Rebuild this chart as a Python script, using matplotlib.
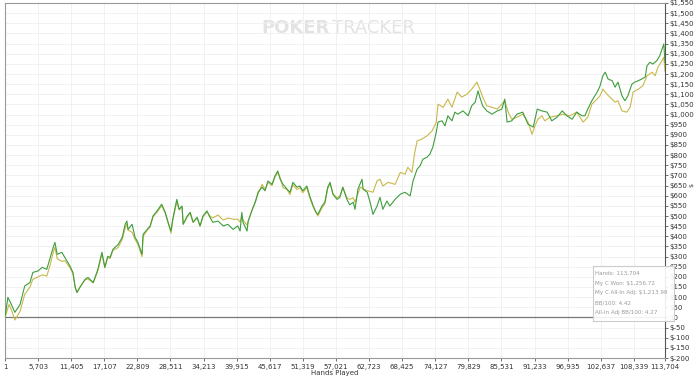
import matplotlib
matplotlib.use("Agg")
import matplotlib.pyplot as plt
import numpy as np

# hands played (thousands) and cumulative winnings
won_hands_k = [0.0, 0.5, 1.0, 1.7, 2.6, 3.4, 4.3, 4.8, 5.7, 6.4, 7.2, 7.8, 8.3, 8.6, 9.0, 9.8,
               10.3, 11.2, 11.7, 12.1, 12.4, 12.9, 13.8, 14.3, 15.2, 16.0, 16.7, 17.2, 17.7, 18.1,
               18.6, 19.5, 20.2, 20.7, 21.0, 21.2, 21.9, 22.4, 22.9, 23.6, 23.8, 24.5, 25.0, 25.5,
               26.2, 27.0, 27.6, 28.1, 28.6, 28.9, 29.6, 30.0, 30.5, 30.7, 31.4, 31.9, 32.4, 33.1,
               33.6, 34.1, 34.8, 35.3, 35.8, 36.7, 37.6, 38.4, 39.3, 40.1, 40.5, 40.8, 41.0, 41.7,
               41.9, 42.6, 43.1, 43.6, 44.3, 44.8, 45.3, 46.0, 46.5, 47.0, 47.4, 47.9, 48.6, 49.1,
               49.6, 50.3, 50.8, 51.3, 52.0, 52.5, 53.1, 53.6, 53.9, 54.6, 55.1, 55.6, 56.0, 56.5,
               57.2, 57.7, 58.2, 58.9, 59.4, 60.0, 60.3, 60.8, 61.5, 61.7, 62.4, 62.9, 63.4, 64.1,
               64.6, 65.1, 65.8, 66.3, 67.2, 68.1, 68.9, 69.8, 70.3, 71.0, 71.5, 72.0, 72.7, 73.2,
               73.7, 74.3, 74.6, 75.3, 75.8, 76.3, 77.0, 77.5, 78.0, 78.9, 79.8, 80.4, 81.0, 81.5,
               81.8, 82.3, 83.0, 83.9, 84.8, 85.6, 86.1, 86.5, 87.3, 88.2, 89.2, 90.1, 91.0, 91.7,
               92.5, 93.4, 94.2, 95.1, 96.0, 96.8, 97.7, 98.5, 99.4, 99.9, 100.4, 101.1, 102.0,
               102.5, 103.0, 103.4, 103.9, 104.6, 105.1, 105.6, 106.3, 106.8, 107.3, 108.0, 108.5,
               109.1, 109.7, 110.3, 110.6, 111.1, 111.6, 112.3, 112.8, 113.2, 113.5, 113.704]
won = [0, 99, 70, 25, 64, 155, 172, 222, 229, 247, 237, 296, 345, 370, 311, 321,
       296, 253, 222, 148, 123, 148, 188, 197, 172, 237, 321, 247, 301, 296,
       336, 360, 395, 459, 475, 434, 459, 395, 370, 311, 410, 434, 451, 500,
       525, 558, 518, 469, 426, 484, 582, 533, 549, 459, 500, 518, 469, 494,
       451, 500, 525, 494, 469, 475, 451, 459, 434, 451, 426, 518, 469, 426,
       475, 533, 568, 617, 642, 624, 673, 656, 697, 722, 681, 656, 632, 617,
       666, 642, 648, 624, 648, 599, 549, 518, 508, 549, 568, 642, 666, 607,
       582, 592, 642, 582, 555, 568, 533, 632, 681, 632, 617, 568, 508, 549,
       592, 533, 574, 549, 582, 607, 617, 599, 673, 731, 747, 780, 790, 805,
       839, 913, 963, 969, 944, 994, 969, 1012, 1002, 1018, 994, 1043, 1061, 1117,
       1086, 1043, 1018, 1002, 1018, 1027, 1076, 963, 969, 1002, 1012, 953, 938, 1027,
       1018, 1012, 969, 987, 1018, 994, 977, 1012, 994, 994, 1027, 1068, 1110,
       1140, 1191, 1209, 1175, 1167, 1135, 1160, 1092, 1068, 1092, 1150, 1160,
       1167, 1175, 1185, 1240, 1258, 1249, 1266, 1290, 1323, 1348, 1256.72]

adj_hands_k = [0.0, 0.7, 1.2, 1.7, 2.6, 3.4, 4.3, 4.8, 5.7, 6.4, 7.2, 7.8, 8.3, 8.6, 9.0, 9.8,
               10.3, 11.2, 11.7, 12.1, 12.4, 12.9, 13.8, 14.3, 15.2, 16.0, 16.7, 17.2, 17.7, 18.1,
               18.6, 19.5, 20.2, 20.7, 21.0, 21.2, 21.9, 22.4, 22.9, 23.6, 23.8, 24.5, 25.0, 25.5,
               26.2, 27.0, 27.6, 28.1, 28.6, 28.9, 29.6, 30.0, 30.5, 30.7, 31.4, 31.9, 32.4, 33.1,
               33.6, 34.1, 34.8, 35.3, 35.8, 36.7, 37.6, 38.4, 39.3, 40.1, 40.5, 40.8, 41.0, 41.7,
               41.9, 42.6, 43.1, 43.6, 44.3, 44.8, 45.3, 46.0, 46.5, 47.0, 47.4, 47.9, 48.6, 49.1,
               49.6, 50.3, 50.8, 51.3, 52.0, 52.5, 53.1, 53.6, 53.9, 54.6, 55.1, 55.6, 56.0, 56.5,
               57.2, 57.7, 58.2, 58.9, 59.4, 60.0, 60.3, 60.8, 61.2, 62.0, 62.5, 63.4, 64.1, 64.6,
               65.1, 66.0, 67.2, 68.1, 68.9, 69.4, 70.1, 70.6, 71.0, 71.8, 72.7, 73.6, 74.3, 74.6,
               75.5, 76.3, 77.0, 77.9, 78.7, 79.6, 80.4, 81.3, 81.8, 82.3, 83.0, 83.9, 84.8, 85.6,
               86.1, 86.7, 87.3, 88.2, 89.2, 90.1, 90.8, 91.3, 91.8, 92.5, 93.0, 93.9, 95.1, 96.1,
               97.3, 98.5, 99.6, 100.4, 101.1, 102.0, 102.5, 103.0, 103.7, 104.2, 105.1, 105.6,
               106.3, 107.1, 107.7, 108.2, 109.1, 109.9, 110.6, 111.5, 112.0, 112.5, 113.2, 113.5,
               113.704]
adj = [0, 64, 30, -13, 30, 114, 150, 188, 200, 210, 204, 260, 320, 345, 290, 276,
       280, 245, 215, 148, 123, 148, 185, 190, 170, 230, 315, 245, 295, 290,
       330, 345, 385, 440, 460, 430, 420, 385, 360, 300, 400, 430, 445, 495,
       520, 550, 515, 465, 415, 480, 570, 530, 545, 460, 495, 515, 470, 490,
       450, 495, 520, 500, 490, 505, 480, 490, 484, 484, 470, 500, 480, 455,
       475, 530, 565, 610, 656, 630, 665, 650, 690, 715, 690, 640, 630, 605,
       655, 630, 640, 615, 640, 590, 545, 515, 500, 540, 560, 635, 660, 610,
       590, 600, 640, 590, 582, 590, 568, 610, 642, 630, 624, 617, 673, 681,
       648, 666, 656, 715, 706, 740, 715, 814, 870, 879, 895, 920, 963, 1051,
       1036, 1076, 1036, 1111, 1086, 1101, 1125, 1160, 1125, 1086, 1043, 1036, 1027, 1051,
       1068, 1012, 977, 987, 1002, 963, 903, 944, 977, 994, 969, 987, 994, 1002,
       994, 1012, 963, 987, 1051, 1076, 1092, 1125, 1101, 1086, 1061, 1068,
       1018, 1012, 1036, 1111, 1125, 1142, 1191, 1209, 1191, 1234, 1266, 1283,
       1213.99]

x_ticks = [1 + 5702 * i for i in range(20)] + [113704]
y_ticks = list(range(-200, 1551, 50))

info_lines = ["Hands: 113,704", "My C Won: $1,256.72", "My C All-In Adj: $1,213.99",
              "BB/100: 4.42", "All-In Adj BB/100: 4.27"]

fig = plt.figure(figsize=(7.0, 3.78), dpi=100)
ax = fig.add_axes([5 / 700, 1 - 358 / 378, 660 / 700, 355 / 378])

ax.plot(np.array(adj_hands_k) * 1000, adj, color="#c8b84a", lw=0.8, zorder=3)
ax.plot(np.array(won_hands_k) * 1000, won, color="#3d9e3d", lw=0.8, zorder=4)
ax.axhline(0, color="#777777", lw=0.9, zorder=2)

ax.set_xlim(1, 113704)
ax.set_ylim(-200, 1550)
ax.set_xticks(x_ticks)
ax.set_xticklabels([f"{t:,}" for t in x_ticks])
ax.set_yticks(y_ticks)
ax.set_yticklabels([f"${t:,}" for t in y_ticks])
ax.yaxis.tick_right()
ax.tick_params(axis="y", labelsize=5, colors="#333333", length=2, width=0.5, pad=1)
ax.tick_params(axis="x", labelsize=5, colors="#333333", length=2, width=0.5, pad=2)
ax.grid(True, color="#efefef", lw=0.6, zorder=0)

for side in ["left", "bottom", "top", "right"]:
    ax.spines[side].set_color("#999999")
    ax.spines[side].set_linewidth(0.8)
ax.spines["right"].set_color("#555555")

ax.set_xlabel("Hands Played", fontsize=5, color="#333333", labelpad=0.5)
# y label sits in the narrow strip right of the tick labels
fig.text(0.989, 0.51, "$", rotation=90, fontsize=4.5, color="#333333",
         ha="center", va="center")

# watermark
ax.text(0.492, 0.93, "POKER", transform=ax.transAxes, ha="right", va="center",
        fontsize=13, fontweight="bold", color="#e3e3e3",
        family=["Liberation Sans Narrow", "DejaVu Sans"], zorder=1)
ax.text(0.496, 0.93, "TRACKER", transform=ax.transAxes, ha="left", va="center",
        fontsize=13, color="#e3e3e3",
        family=["Liberation Sans Narrow", "DejaVu Sans"], zorder=1)

# summary box
box_ax = fig.add_axes([593 / 700, 1 - 321 / 378, 81 / 700, 55 / 378])
box_ax.set_xticks([])
box_ax.set_yticks([])
box_ax.set_facecolor("white")
box_ax.patch.set_alpha(0.9)
for s in box_ax.spines.values():
    s.set_color("#cccccc")
    s.set_linewidth(0.8)
for i, line in enumerate(info_lines):
    box_ax.text(0.03, 0.86 - i * 0.175, line, transform=box_ax.transAxes,
                fontsize=4.1, color="#9a9a9a", va="center", ha="left")

fig.savefig("out.png", dpi=100)
